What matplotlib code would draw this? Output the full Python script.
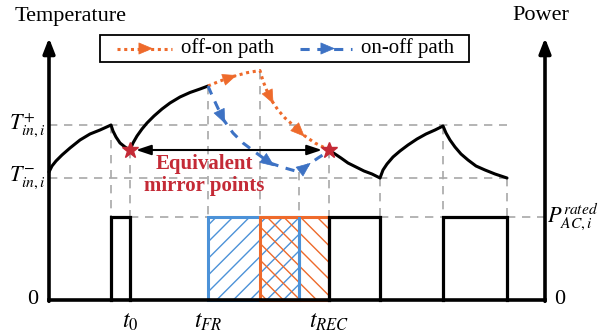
import matplotlib
matplotlib.use("Agg")
import matplotlib.pyplot as plt
from matplotlib.patches import Rectangle

plt.rcParams['font.family'] = ['Liberation Serif', 'DejaVu Serif']
plt.rcParams['mathtext.fontset'] = 'stix'
plt.rcParams['hatch.linewidth'] = 1.0

# ---------------- data (schematic coordinates) ----------------
x_left_axis, x_right_axis = 49, 545
y_zero, y_axis_top = 300, 38
T_plus, T_minus, P_rated = 125, 178, 217
t0, t_FR, t_REC = 130, 208, 329

# black power bars (on, off)
bar_on = [111, 329, 443]
bar_off = [130, 380, 507]
# frequency-regulation windows
onoff_window = [208, 299]
offon_window = [260, 329]

# temperature curve before t_FR
tempA_x = [49, 52, 56, 62, 70, 80, 90, 100, 111, 113, 116, 120, 125, 130,
           133, 137, 142, 147, 154, 162, 170, 180, 190, 200, 208]
tempA_y = [172, 166, 161, 155, 148, 140, 134, 130, 125, 131, 137, 143, 147, 150,
           143, 136, 129, 123, 116, 109, 103, 97, 92.5, 89, 86]
# temperature curve after t_REC
tempB_x = [329, 335, 341, 348, 356, 364, 372, 380, 383, 387, 393, 400, 408, 417,
           426, 435, 443, 446, 450, 455, 461, 468, 476, 485, 495, 507]
tempB_y = [150, 154, 158, 163, 167, 171, 174, 178, 170, 164, 157, 151, 145, 139,
           134, 130, 126, 133, 140, 147, 154, 160, 166, 170, 174, 178]
# off-on path (orange dotted)
offon_x = [208, 220, 233, 247, 260, 263, 267, 272, 278, 285, 293, 302, 315, 329]
offon_y = [86, 81, 76.5, 72.7, 70.5, 81, 91, 101, 110, 118, 125, 134, 143, 150]
offon_arrows = [2, 7, 11]
# on-off path (blue dashed)
onoff_x = [208, 211, 216, 223, 233, 243, 255, 270, 285, 299, 308, 318, 329]
onoff_y = [86, 93, 104, 119, 133, 143, 152, 163, 168, 172, 165, 158, 151]
onoff_arrows = [3, 7, 10]
# vertical dashed guide positions (x, top y)
guide_x = [111, 130, 208, 260, 299, 329, 380, 443, 507]
guide_top = [125, 150, 86, 70.5, 172, 150, 178, 126, 178]

ORANGE = '#EE6A2B'
BLUE_D = '#3D72C4'
BLUE_R = '#4C92D8'
RED = '#C42A36'
GREY = '#A8A8A8'

fig = plt.figure(figsize=(6.03, 3.34), dpi=100)
ax = fig.add_axes([0, 0, 1, 1])
ax.set_xlim(0, 603)
ax.set_ylim(334, 0)
ax.axis('off')

dash = dict(color=GREY, lw=1.2, ls=(0, (5, 4)), zorder=1)
# horizontal guides
ax.plot([x_left_axis, 507], [T_plus, T_plus], **dash)
ax.plot([x_left_axis, 507], [T_minus, T_minus], **dash)
ax.plot([130, 208], [P_rated, P_rated], **dash)
ax.plot([380, 443], [P_rated, P_rated], **dash)
ax.plot([507, 548], [P_rated, P_rated], **dash)
# vertical guides
for gx, gt in zip(guide_x, guide_top):
    ax.plot([gx, gx], [gt, P_rated], **dash)

# power windows
ax.add_patch(Rectangle((onoff_window[0], P_rated), onoff_window[1] - onoff_window[0],
                       y_zero - P_rated, fill=False, edgecolor=BLUE_R, hatch='//', lw=2.2, zorder=3))
ax.add_patch(Rectangle((offon_window[0], P_rated), offon_window[1] - offon_window[0],
                       y_zero - P_rated, fill=False, edgecolor=ORANGE, hatch='\\\\', lw=2.2, zorder=4))
ax.plot([onoff_window[1], onoff_window[1]], [P_rated + 1, y_zero - 1], color=BLUE_R, lw=2.2, zorder=5)

# black bars
for on, off in zip(bar_on, bar_off):
    ax.plot([on, on, off, off], [y_zero, P_rated, P_rated, y_zero], color='black', lw=2.3,
            solid_joinstyle='miter', zorder=5)

# axes
ax.plot([x_left_axis, x_right_axis], [y_zero, y_zero], color='black', lw=2.6, zorder=6)
for xa in (x_left_axis, x_right_axis):
    ax.annotate('', xy=(xa, y_axis_top), xytext=(xa, y_zero + 1.3),
                arrowprops=dict(arrowstyle='-|>,head_length=0.9,head_width=0.35',
                                mutation_scale=10, color='black', lw=2.6,
                                shrinkA=0, shrinkB=0), zorder=6)

# temperature curves
ax.plot(tempA_x, tempA_y, color='black', lw=2.2, zorder=6, solid_capstyle='round')
ax.plot(tempB_x, tempB_y, color='black', lw=2.2, zorder=6, solid_capstyle='round')

# paths
ax.plot(offon_x, offon_y, color=ORANGE, lw=2.2, ls=(0, (1, 1.2)), zorder=7)
ax.plot(onoff_x, onoff_y, color=BLUE_D, lw=2.2, ls=(0, (3, 2.5)), zorder=7)


def head(xs, ys, i, color):
    ax.annotate('', xy=(xs[i] + (xs[i] - xs[i - 1]) * 0.3, ys[i] + (ys[i] - ys[i - 1]) * 0.3),
                xytext=(xs[i - 1] + (xs[i] - xs[i - 1]) * 0.7, ys[i - 1] + (ys[i] - ys[i - 1]) * 0.7),
                arrowprops=dict(arrowstyle='-|>,head_length=0.95,head_width=0.4',
                                mutation_scale=10, color=color, lw=0.5,
                                shrinkA=0, shrinkB=0), zorder=8)


for i in offon_arrows:
    head(offon_x, offon_y, i, ORANGE)
for i in onoff_arrows:
    head(onoff_x, onoff_y, i, BLUE_D)

# mirror points arrow
ax.annotate('', xy=(322, 150), xytext=(136, 150),
            arrowprops=dict(arrowstyle='<|-|>,head_length=0.9,head_width=0.3',
                            mutation_scale=10, color='black', lw=1.5,
                            shrinkA=0, shrinkB=0), zorder=7)
ax.plot([t0, t_REC], [150, 150], ls='none', marker='*', ms=12, color=RED, zorder=9)
ax.text(204, 164, 'Equivalent', color=RED, fontsize=15, fontweight='bold', ha='center', va='center', zorder=9)
ax.text(204, 186, 'mirror points', color=RED, fontsize=15, fontweight='bold', ha='center', va='center', zorder=9)

# legend
ax.add_patch(Rectangle((100, 35), 369, 27, fill=True, facecolor='white', edgecolor='black', lw=1.3, zorder=9))
ax.plot([117, 172], [48.5, 48.5], color=ORANGE, lw=2.2, ls=(0, (1, 1.2)), zorder=10)
ax.annotate('', xy=(153, 48.5), xytext=(138, 48.5),
            arrowprops=dict(arrowstyle='-|>,head_length=0.95,head_width=0.4', mutation_scale=10,
                            color=ORANGE, lw=0.5, shrinkA=0, shrinkB=0), zorder=11)
ax.text(181, 48.5, 'off-on path', fontsize=15, ha='left', va='center', zorder=10)
ax.plot([300, 352], [48.5, 48.5], color=BLUE_D, lw=2.2, ls=(0, (3, 2.5)), zorder=10)
ax.annotate('', xy=(335, 48.5), xytext=(320, 48.5),
            arrowprops=dict(arrowstyle='-|>,head_length=0.95,head_width=0.4', mutation_scale=10,
                            color=BLUE_D, lw=0.5, shrinkA=0, shrinkB=0), zorder=11)
ax.text(361, 48.5, 'on-off path', fontsize=15, ha='left', va='center', zorder=10)

# axis titles and labels
ax.text(15, 16, 'Temperature', fontsize=16, ha='left', va='center')
ax.text(541, 16, 'Power', fontsize=16, ha='center', va='center')
ax.text(33, y_zero, '0', fontsize=16, ha='center', va='center')
ax.text(560, y_zero, '0', fontsize=16, ha='center', va='center')
ax.text(27, T_plus, r'$T_{in,i}^{+}$', fontsize=16, ha='center', va='center')
ax.text(27, T_minus, r'$T_{in,i}^{-}$', fontsize=16, ha='center', va='center')
ax.text(573, P_rated, r'$P_{AC,i}^{rated}$', fontsize=16, ha='center', va='center')
ax.text(t0, 322, r'$t_0$', fontsize=17, ha='center', va='center')
ax.text(t_FR, 322, r'$t_{FR}$', fontsize=17, ha='center', va='center')
ax.text(t_REC, 322, r'$t_{REC}$', fontsize=17, ha='center', va='center')

fig.savefig('out.png', dpi=100)
